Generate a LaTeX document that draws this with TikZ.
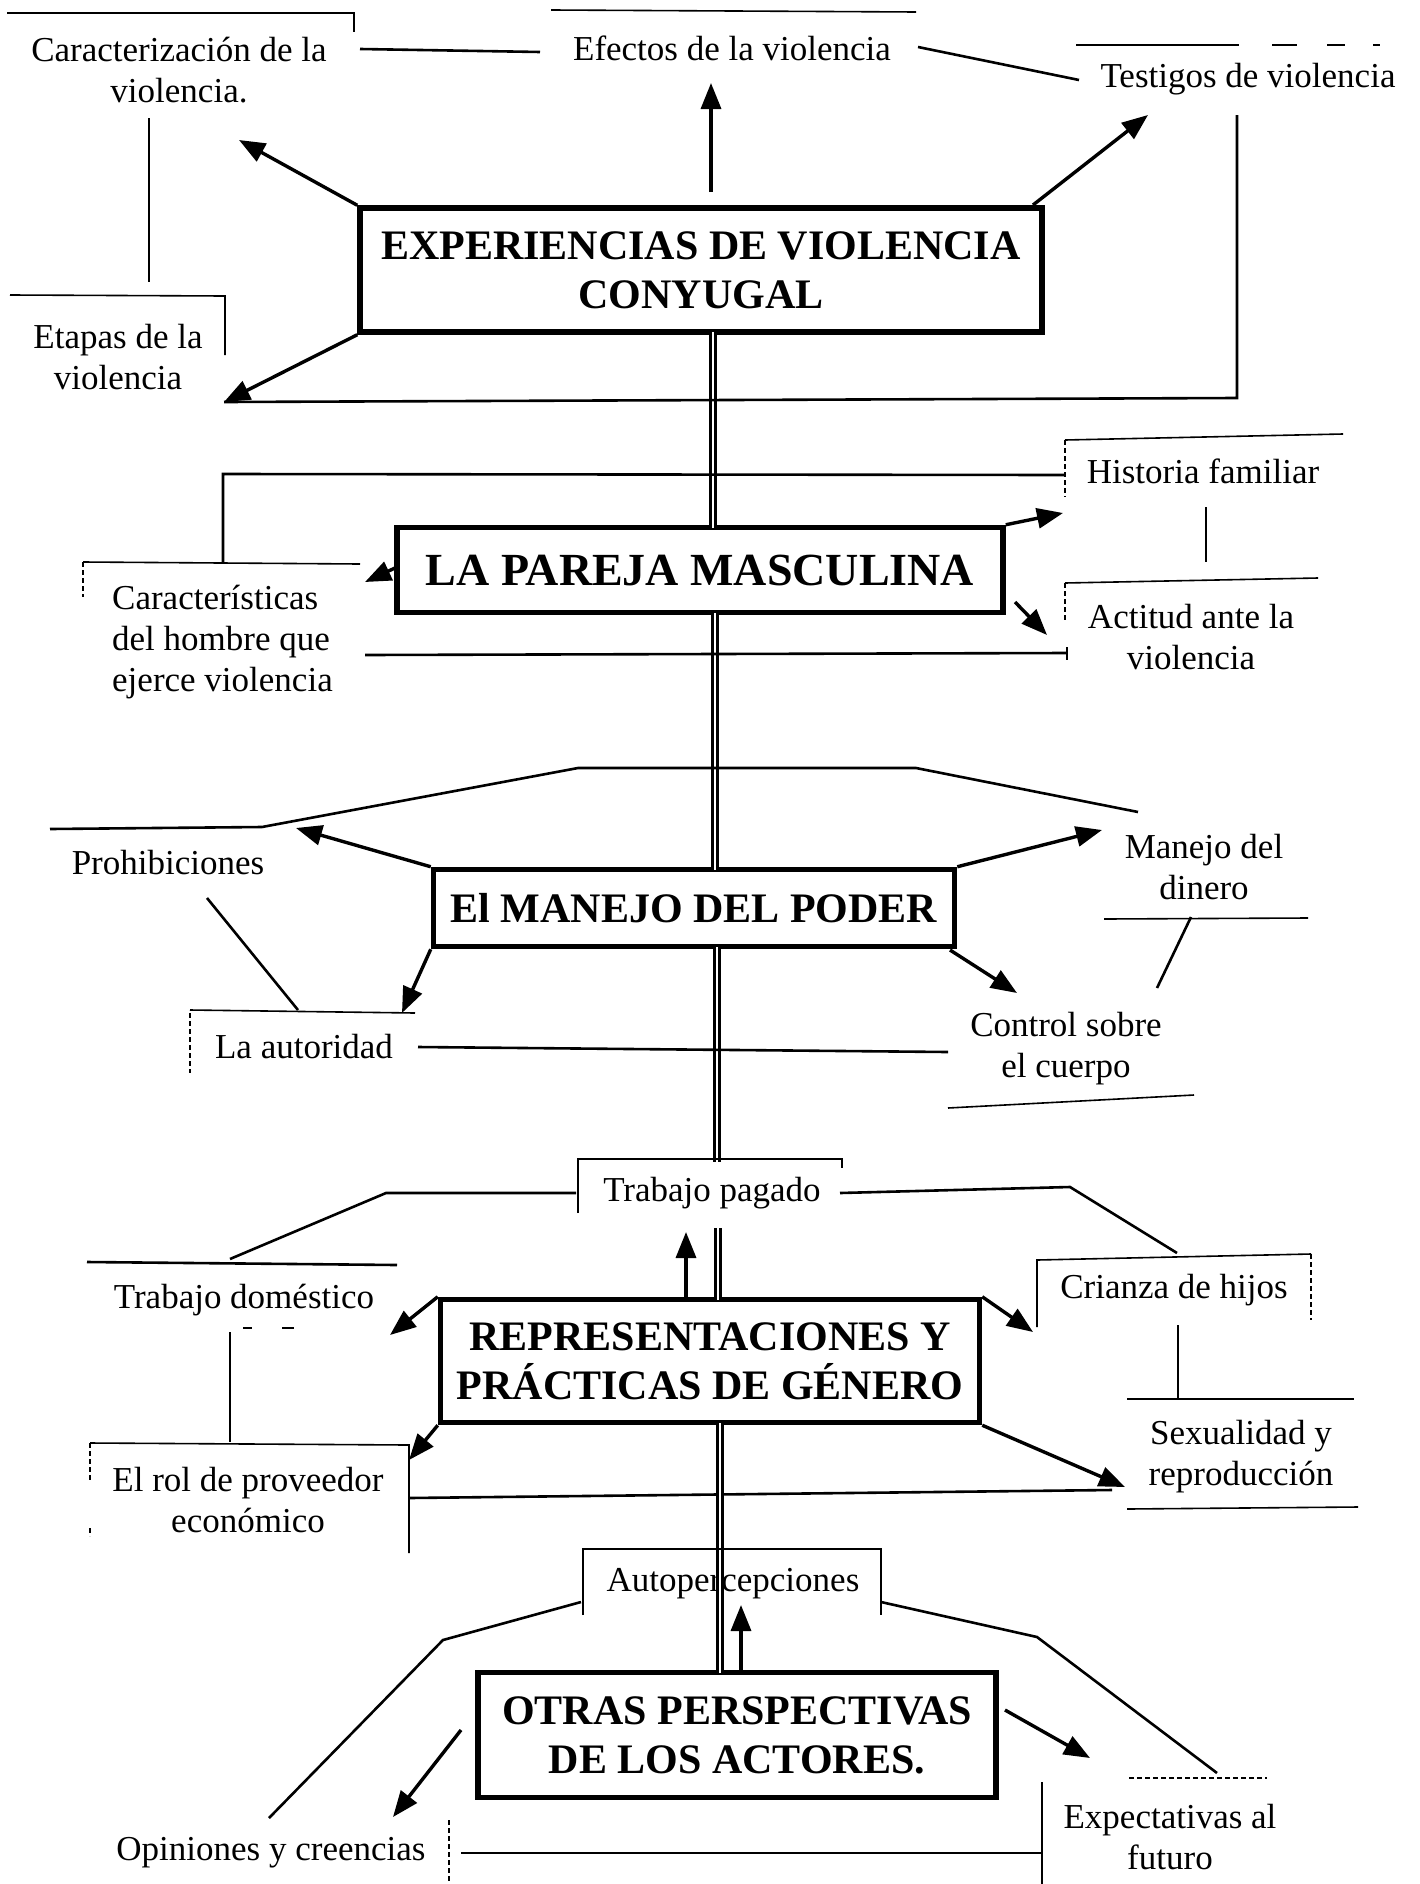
\documentclass[tikz,border=0pt]{standalone}
\usepackage{fontspec}
\setmainfont{Liberation Serif}
\usetikzlibrary{arrows.meta}
\begin{document}
\begin{tikzpicture}[x=1pt,y=-1pt,
  lbl/.style={inner sep=0pt, font=\fontsize{35}{41}\selectfont, align=center},
  box/.style={draw, line width=5.5pt, inner sep=0pt, fill=white, font=\bfseries\fontsize{42}{49}\selectfont, align=center},
  thinln/.style={line width=1.6pt},
  brk/.style={line width=1.6pt, dash pattern=on 5pt off 3pt},
  conn/.style={line width=2.6pt},
  arr/.style={line width=3.4pt, -{Triangle[length=26pt,width=20pt]}},
  spine/.style={double, double distance=2.4pt, line width=2.4pt}
]
\fill[white] (0,0) rectangle (1419,1884);
\useasboundingbox (0,0) rectangle (1419,1884);

% ---------------- boxes ----------------
\node[box, minimum width=682pt, minimum height=124pt] (b1) at (701,270) {EXPERIENCIAS DE VIOLENCIA\\CONYUGAL};
\node[box, minimum width=606pt, minimum height=85pt, font=\bfseries\fontsize{46}{52}\selectfont] (b2) at (700,570) {LA PAREJA MASCULINA};
\node[box, minimum width=521pt, minimum height=77pt] (b3) at (694,908) {El MANEJO DEL PODER};
\node[box, minimum width=539pt, minimum height=123pt] (b4) at (710,1361) {REPRESENTACIONES Y\\PRÁCTICAS DE GÉNERO};
\node[box, minimum width=518pt, minimum height=125pt] (b5) at (737,1735) {OTRAS PERSPECTIVAS\\DE LOS ACTORES.};

% ---------------- spine ----------------
\draw[spine] (713,332) -- (713,528);
\draw[spine] (715,613) -- (715,870);
\draw[spine] (717,947) -- (717,1162);
\draw[spine] (718,1228) -- (718,1300);

% ---------------- level 1 ----------------
\node[lbl] (t1) at (179,70) {Caracterización de la\\violencia.};
\node[lbl] (t2) at (732,48) {Efectos de la violencia};
\node[lbl] (t3) at (1248,79) {Testigos de violencia};
\node[lbl] (t4) at (118,357) {Etapas de la\\violencia};

\draw[thinln] (7,13) -- (354,13) -- (354,32);
\draw[thinln] (551,10) -- (916,12);
\draw[thinln] (1076,45) -- (1239,45);
\draw[thinln] (1272,45) -- (1297,45);
\draw[thinln] (1327,45) -- (1345,45);
\draw[thinln] (1373,45) -- (1380,45);
\draw[thinln] (10,295) -- (225,296) -- (225,355);

\coordinate (c1a) at (360,49); \coordinate (c1b) at (540,52);
\coordinate (c2a) at (918,47); \coordinate (c2b) at (1079,80);
\coordinate (c3a) at (149,118); \coordinate (c3b) at (149,282);
\coordinate (c4a) at (1237,115); \coordinate (c4b) at (1237,398);
\draw[conn] (c1a) -- (c1b);
\draw[conn] (c2a) -- (c2b);
\draw[conn] (c3a) -- (c3b);

\coordinate (a1t) at (239,140);
\coordinate (a2s) at (711,192); \coordinate (a2t) at (711,83);
\coordinate (a3s) at (1033,205); \coordinate (a3t) at (1148,115);
\coordinate (a4t) at (224,402);
\draw[arr] (b1.north west) -- (a1t);
\draw[arr] (a2s) -- (a2t);
\draw[arr] (a3s) -- (a3t);
\draw[arr] (b1.south west) -- (a4t);
\draw[conn] (c4a) -- (c4b) -- (a4t);

% ---------------- level 2 ----------------
\node[lbl, anchor=west, align=left] (t7) at (112,642) {Características\\del hombre que\\ejerce violencia};
\node[lbl] (t5) at (1203,471) {Historia familiar};
\node[lbl] (t6) at (1191,637) {Actitud ante la\\violencia};

\draw[thinln] (83,562) -- (360,564);
\draw[brk] (83,562) -- (83,597);
\draw[thinln] (1065,440) -- (1343,434);
\draw[brk] (1065,440) -- (1065,497);
\draw[thinln] (1065,583) -- (1318,578);
\draw[brk] (1065,583) -- (1065,620);

\coordinate (l2a) at (223,562); \coordinate (l2b) at (223,474); \coordinate (l2c) at (1065,475);
\draw[conn] (l2a) -- (l2b) -- (l2c);
\coordinate (l2d) at (365,655); \coordinate (l2e) at (1067,653);
\draw[conn] (l2d) -- (l2e);
\draw[thinln] (1067,647) -- (1067,660);
\coordinate (l2f) at (1206,507); \coordinate (l2g) at (1206,562);
\draw[conn] (l2f) -- (l2g);

\coordinate (a5s) at (395,568); \coordinate (a5t) at (365,582);
\coordinate (a6t) at (1063,513);
\coordinate (a7s) at (1015,602); \coordinate (a7t) at (1047,635);
\draw[arr] (a5s) -- (a5t);
\draw[arr] (b2.north east) -- (a6t);
\draw[arr] (a7s) -- (a7t);

% ---------------- level 3 ----------------
\node[lbl] (t8) at (168,863) {Prohibiciones};
\node[lbl] (t9) at (304,1047) {La autoridad};
\node[lbl] (t10) at (1204,867) {Manejo del\\dinero};
\node[lbl] (t11) at (1066,1049) {Control sobre\\el cuerpo};

\draw[thinln] (190,1010) -- (415,1013);
\draw[brk] (190,1013) -- (190,1073);
\draw[thinln] (1104,919) -- (1308,918);
\draw[thinln] (948,1108) -- (1194,1095);

\coordinate (l3a) at (50,829); \coordinate (l3b) at (262,827); \coordinate (l3c) at (578,768);
\coordinate (l3d) at (916,768); \coordinate (l3e) at (1138,812);
\draw[conn] (l3a) -- (l3b) -- (l3c) -- (l3d) -- (l3e);
\coordinate (l3f) at (207,898); \coordinate (l3g) at (298,1010);
\draw[conn] (l3f) -- (l3g);
\coordinate (l3h) at (418,1047); \coordinate (l3i) at (948,1052);
\draw[conn] (l3h) -- (l3i);
\coordinate (l3j) at (1191,917); \coordinate (l3k) at (1157,988);
\draw[conn] (l3j) -- (l3k);

\coordinate (a8t) at (296,828);
\coordinate (a9t) at (402,1013);
\coordinate (a10t) at (1102,830);
\coordinate (a11s) at (950,950); \coordinate (a11t) at (1017,993);
\draw[arr] (b3.north west) -- (a8t);
\draw[arr] (b3.south west) -- (a9t);
\draw[arr] (b3.north east) -- (a10t);
\draw[arr] (a11s) -- (a11t);

% ---------------- level 4 ----------------
\node[lbl] (t12) at (712,1193) {Trabajo pagado};
\node[lbl] (t13) at (244,1300) {Trabajo doméstico};
\node[lbl] (t14) at (248,1500) {El rol de proveedor\\económico};
\node[lbl] (t15) at (1174,1290) {Crianza de hijos};
\node[lbl] (t16) at (1241,1457) {Sexualidad y\\reproducción};

\draw[thinln] (578,1213) -- (578,1159) -- (842,1159) -- (842,1168);
\draw[thinln] (90,1443) -- (409,1445) -- (409,1553);
\draw[brk] (90,1443) -- (90,1480);
\draw[brk] (90,1528) -- (90,1536);
\draw[thinln] (1037,1327) -- (1037,1260) -- (1311,1254);
\draw[brk] (1311,1254) -- (1311,1320);
\draw[thinln] (1127,1399) -- (1354,1399);
\draw[thinln] (1127,1509) -- (1358,1507);
\draw[thinln] (243,1328) -- (252,1328);
\draw[thinln] (282,1328) -- (294,1328);

\coordinate (l4a) at (576,1193); \coordinate (l4b) at (386,1193); \coordinate (l4c) at (230,1259);
\draw[conn] (l4a) -- (l4b) -- (l4c);
\draw[conn] (87,1262) -- (397,1265);
\coordinate (l4d) at (840,1193); \coordinate (l4e) at (1070,1187); \coordinate (l4f) at (1177,1253);
\draw[conn] (l4d) -- (l4e) -- (l4f);
\coordinate (l4g) at (230,1332); \coordinate (l4h) at (230,1442);
\draw[conn] (l4g) -- (l4h);
\coordinate (l4i) at (1178,1325); \coordinate (l4j) at (1178,1398);
\draw[conn] (l4i) -- (l4j);
\coordinate (l4k) at (409,1498); \coordinate (l4l) at (1112,1490);
\draw[conn] (l4k) -- (l4l);

\coordinate (a12s) at (686,1297); \coordinate (a12t) at (686,1232);
\coordinate (a13t) at (390,1335);
\coordinate (a14t) at (409,1460);
\coordinate (a15t) at (1033,1332);
\coordinate (a16t) at (1125,1487);
\draw[arr] (a12s) -- (a12t);
\draw[arr] (b4.north west) -- (a13t);
\draw[arr] (b4.south west) -- (a14t);
\draw[arr] (b4.north east) -- (a15t);
\draw[arr] (b4.south east) -- (a16t);

% ---------------- level 5 ----------------
\node[lbl] (t17) at (733,1584) {Autopercepciones};
\node[lbl] (t18) at (271,1853) {Opiniones y creencias};
\node[lbl] (t19) at (1170,1837) {Expectativas al\\futuro};

\draw[spine] (720,1423) -- (720,1673);

\draw[thinln] (583,1615) -- (583,1549) -- (881,1549) -- (881,1615);
\draw[brk] (1129,1778) -- (1267,1778);
\draw[thinln] (1042,1782) -- (1042,1884);
\draw[brk] (449,1820) -- (449,1884);

\coordinate (l5a) at (581,1602); \coordinate (l5b) at (443,1640); \coordinate (l5c) at (269,1818);
\draw[conn] (l5a) -- (l5b) -- (l5c);
\coordinate (l5d) at (881,1602); \coordinate (l5e) at (1037,1637); \coordinate (l5f) at (1217,1773);
\draw[conn] (l5d) -- (l5e) -- (l5f);
\coordinate (l5g) at (461,1853); \coordinate (l5h) at (1042,1853);
\draw[conn] (l5g) -- (l5h);

\coordinate (a17s) at (741,1673); \coordinate (a17t) at (741,1605);
\coordinate (a18s) at (461,1730); \coordinate (a18t) at (393,1817);
\coordinate (a19s) at (1005,1710); \coordinate (a19t) at (1090,1758);
\draw[arr] (a17s) -- (a17t);
\draw[arr] (a18s) -- (a18t);
\draw[arr] (a19s) -- (a19t);

\end{tikzpicture}
\end{document}
